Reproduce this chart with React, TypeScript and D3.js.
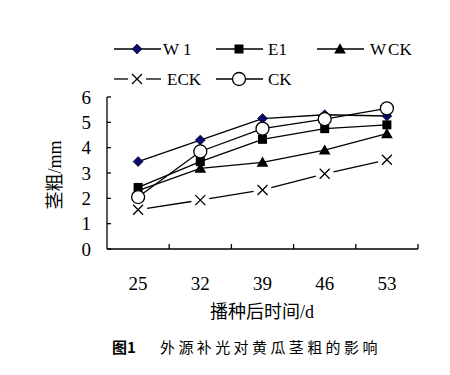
import React, { useRef, useEffect } from 'react';
import * as d3 from 'd3';

const days = ['25', '32', '39', '46', '53'];
const seriesNames = ['W1', 'E1', 'WCK', 'ECK', 'CK'];
const w1 = [3.45, 4.3, 5.15, 5.3, 5.25];
const e1 = [2.43, 3.45, 4.33, 4.75, 4.9];
const wck = [2.3, 3.18, 3.42, 3.9, 4.55];
const eck = [1.55, 1.93, 2.33, 2.97, 3.52];
const ck = [2.05, 3.85, 4.75, 5.13, 5.55];
const yTicks = [0, 1, 2, 3, 4, 5, 6];

const SERIF = '"Liberation Serif", "Noto Sans CJK SC", serif';

const App = () => {
  const svgRef = useRef<SVGSVGElement>(null);

  useEffect(() => {
    const svg = d3.select(svgRef.current);
    svg.selectAll('*').remove();
    const width = 450;
    const height = 375;
    svg.attr('width', width).attr('height', height);
    svg.append('rect').attr('width', width).attr('height', height).attr('fill', '#fff');

    const x = d3.scaleBand().domain(days).range([107, 418]);
    const y = d3.scaleLinear().domain([0, 6]).range([249, 97]);
    const cx = (d: string) => (x(d) as number) + x.bandwidth() / 2;

    // axes
    const ax = svg.append('g').attr('stroke', '#000').attr('stroke-width', 1.3);
    ax.append('line').attr('x1', 107).attr('x2', 107).attr('y1', y(6)).attr('y2', y(0));
    ax.append('line').attr('x1', 107).attr('x2', 418).attr('y1', y(0)).attr('y2', y(0));
    yTicks.forEach(t => {
      ax.append('line').attr('x1', 107).attr('x2', 111).attr('y1', y(t)).attr('y2', y(t));
    });
    days.forEach(d => {
      const xr = (x(d) as number) + x.bandwidth();
      ax.append('line').attr('x1', xr).attr('x2', xr).attr('y1', y(0)).attr('y2', y(0) - 5);
    });

    svg.append('g').selectAll('text').data(yTicks).join('text')
      .attr('x', 91).attr('y', d => y(d)).attr('dy', '0.35em')
      .attr('text-anchor', 'end')
      .style('font-family', SERIF).style('font-size', '19px')
      .text(d => d);

    svg.append('g').selectAll('text').data(days).join('text')
      .attr('x', d => cx(d)).attr('y', 283).attr('dy', '0.35em')
      .attr('text-anchor', 'middle')
      .style('font-family', SERIF).style('font-size', '19px')
      .text(d => d);

    svg.append('text')
      .attr('x', 262).attr('y', 312).attr('dy', '0.35em')
      .attr('text-anchor', 'middle')
      .style('font-family', SERIF).style('font-size', '18px')
      .text('播种后时间/d');

    svg.append('text')
      .attr('transform', 'translate(55,175) rotate(-90)')
      .attr('dy', '0.35em')
      .attr('text-anchor', 'middle')
      .style('font-family', SERIF).style('font-size', '18px')
      .text('茎粗/mm');

    const cap = svg.append('text')
      .attr('x', 112).attr('y', 348).attr('dy', '0.35em')
      .style('font-family', '"Noto Sans CJK SC", sans-serif').style('font-size', '15px');
    cap.append('tspan').style('font-weight', 'bold').text('图1');
    cap.append('tspan').attr('x', 160).style('letter-spacing', '3.4px').text('外源补光对黄瓜茎粗的影响');

    const marker = (g: any, kind: string, px: number, py: number) => {
      if (kind === 'W1') {
        g.append('path').attr('d', `M${px},${py - 5}L${px + 5},${py}L${px},${py + 5}L${px - 5},${py}Z`)
          .attr('fill', '#0a0a6e').attr('stroke', '#000').attr('stroke-width', 0.6);
      } else if (kind === 'E1') {
        g.append('rect').attr('x', px - 4.5).attr('y', py - 4.5).attr('width', 9).attr('height', 9).attr('fill', '#000');
      } else if (kind === 'WCK') {
        g.append('path').attr('d', d3.symbol(d3.symbolTriangle, 60)()).attr('transform', `translate(${px},${py + 1})`).attr('fill', '#000');
      } else if (kind === 'ECK') {
        g.append('path').attr('d', `M${px - 5},${py - 5}L${px + 5},${py + 5}M${px - 5},${py + 5}L${px + 5},${py - 5}`)
          .attr('stroke', '#000').attr('stroke-width', 1.3).attr('fill', 'none');
      } else {
        g.append('circle').attr('cx', px).attr('cy', py).attr('r', 6.5).attr('fill', '#fff').attr('stroke', '#000').attr('stroke-width', 1.3);
      }
    };

    const all = [w1, e1, wck, eck, ck];
    const line = d3.line<number>().x((_, i) => cx(days[i])).y(d => y(d));
    const plot = svg.append('g');
    all.forEach((vals, si) => {
      const name = seriesNames[si];
      if (name === 'ECK') {
        // line stops short of the cross markers
        for (let i = 0; i < vals.length - 1; i++) {
          const x0 = cx(days[i]), y0 = y(vals[i]), x1 = cx(days[i + 1]), y1 = y(vals[i + 1]);
          const len = Math.hypot(x1 - x0, y1 - y0);
          const ux = (x1 - x0) / len, uy = (y1 - y0) / len;
          plot.append('line')
            .attr('x1', x0 + ux * 9).attr('y1', y0 + uy * 9)
            .attr('x2', x1 - ux * 9).attr('y2', y1 - uy * 9)
            .attr('stroke', '#000').attr('stroke-width', 1.3);
        }
      } else {
        plot.append('path').datum(vals).attr('d', line)
          .attr('fill', 'none').attr('stroke', '#000').attr('stroke-width', 1.3);
      }
    });
    all.forEach((vals, si) => {
      vals.forEach((v, i) => marker(plot, seriesNames[si], cx(days[i]), y(v)));
    });

    // legend
    const legendPos = [
      { lx: 114, ly: 49, tx: 163 },
      { lx: 216, ly: 49, tx: 268 },
      { lx: 317, ly: 49, tx: 370 },
      { lx: 114, ly: 79, tx: 167 },
      { lx: 216, ly: 79, tx: 268 },
    ];
    const lg = svg.append('g');
    seriesNames.forEach((name, i) => {
      const p = legendPos[i];
      const mid = p.lx + 23;
      if (name === 'ECK') {
        lg.append('line').attr('x1', p.lx).attr('x2', mid - 9).attr('y1', p.ly).attr('y2', p.ly).attr('stroke', '#000').attr('stroke-width', 1.3);
        lg.append('line').attr('x1', mid + 9).attr('x2', p.lx + 47).attr('y1', p.ly).attr('y2', p.ly).attr('stroke', '#000').attr('stroke-width', 1.3);
      } else {
        lg.append('line').attr('x1', p.lx).attr('x2', p.lx + 47).attr('y1', p.ly).attr('y2', p.ly).attr('stroke', '#000').attr('stroke-width', 1.3);
      }
      marker(lg, name, mid, p.ly);
      const t = lg.append('text').attr('x', p.tx).attr('y', p.ly).attr('dy', '0.35em')
        .style('font-family', SERIF).style('font-size', '17px');
      if (name.startsWith('W')) {
        t.append('tspan').text('W');
        t.append('tspan').attr('dx', name === 'W1' ? 4 : 2).text(name.slice(1));
      } else {
        t.text(name);
      }
    });
  }, []);

  return (
    <div style={{ position: 'absolute', left: 0, top: 0 }}>
      <svg ref={svgRef} style={{ display: 'block' }}></svg>
    </div>
  );
};

export default App;
